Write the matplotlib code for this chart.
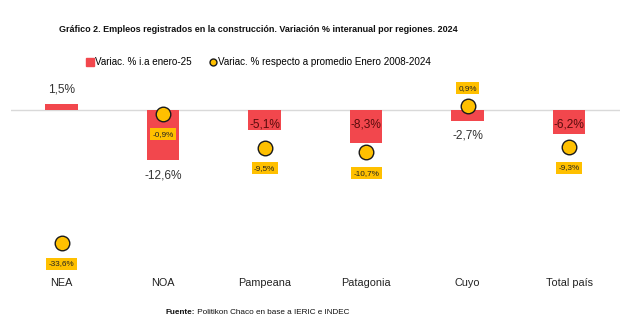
import matplotlib.pyplot as plt
from matplotlib.lines import Line2D

# ---------- data ----------
regiones = ["NEA", "NOA", "Pampeana", "Patagonia", "Cuyo", "Total país"]
var_ia_enero25 = [1.5, -12.6, -5.1, -8.3, -2.7, -6.2]
var_prom_2008_2024 = [-33.6, -0.9, -9.5, -10.7, 0.9, -9.3]
# where the bar value label goes: "out" beyond the bar end, "in" inside near the top
pos_etiqueta_barra = ["out", "out", "in", "in", "out", "in"]
# --------------------------

ROJO = "#f2474d"
AMARILLO = "#ffc000"

plt.rcParams["font.family"] = ["Liberation Sans", "DejaVu Sans"]

CX = 0.401  # horizontal centre of title, legend and source line


def fmt(v):
    return f"{v:.1f}".replace(".", ",") + "%"


fig = plt.figure(figsize=(6.43, 3.33), dpi=100)
ax = fig.add_axes([0.017, 0.183, 0.947, 0.552])

x = range(len(regiones))
ax.bar(x, var_ia_enero25, width=0.32, color=ROJO, zorder=2)
ax.scatter(x, var_prom_2008_2024, s=110, color=AMARILLO, edgecolor="#1a1a1a",
           linewidth=1.0, zorder=4)
ax.axhline(0, color="#d9d9d9", lw=1, zorder=1)

# bar labels
for i, (v, pos) in enumerate(zip(var_ia_enero25, pos_etiqueta_barra)):
    if pos == "in":
        ax.annotate(fmt(v), (i, 0), xytext=(0, -10.5), textcoords="offset points",
                    ha="center", va="center", fontsize=8.6, color="#5a0c0c", zorder=5)
    else:
        dy = 10.5 if v > 0 else -11
        ax.annotate(fmt(v), (i, v), xytext=(0, dy), textcoords="offset points",
                    ha="center", va="center", fontsize=8.6, color="#333333", zorder=5)

# dot labels in yellow boxes
for i, v in enumerate(var_prom_2008_2024):
    dy = 13 if v > 0 else -15
    ax.annotate(fmt(v), (i, v), xytext=(0, dy), textcoords="offset points",
                ha="center", va="center", fontsize=5.9, color="#222222", zorder=5,
                bbox=dict(boxstyle="square,pad=0.3", fc=AMARILLO, ec="none"))

ax.set_xlim(-0.5, len(regiones) - 0.5)
ax.set_ylim(-41, 5.5)
ax.set_xticks(list(x))
ax.set_xticklabels(regiones, fontsize=7.8, color="#222222")
ax.tick_params(axis="x", length=0, pad=4)
ax.set_yticks([])
for s in ax.spines.values():
    s.set_visible(False)

fig.text(CX, 0.912, "Gráfico 2. Empleos registrados en la construcción. Variación % interanual por regiones. 2024",
         ha="center", va="center", fontsize=6.5, fontweight="bold", color="#111111")

handles = [
    Line2D([], [], marker="s", ls="", color=ROJO, markersize=5.5),
    Line2D([], [], marker="o", ls="", markerfacecolor=AMARILLO,
           markeredgecolor="#1a1a1a", markersize=5),
]
fig.legend(handles, ["Variac. % i.a enero-25", "Variac. % respecto a promedio Enero 2008-2024"],
           loc="center", bbox_to_anchor=(CX, 0.813), ncol=2, frameon=False,
           fontsize=7.1, handletextpad=0.0, columnspacing=1.7, handlelength=1.0)

# source line: bold "Fuente:" followed by regular text, centred as one line
fy = 1 - 313 / 333
t1 = fig.text(0, fy, "Fuente:", ha="left", va="center",
              fontsize=5.9, fontweight="bold", color="#111111")
t2 = fig.text(0, fy, " Politikon Chaco en base a IERIC e INDEC",
              ha="left", va="center", fontsize=5.9, color="#111111")
r = fig.canvas.get_renderer()
w1 = t1.get_window_extent(r).width / fig.bbox.width
w2 = t2.get_window_extent(r).width / fig.bbox.width
x0 = CX - (w1 + w2) / 2
t1.set_x(x0)
t2.set_x(x0 + w1)

fig.savefig("out.png", dpi=100, facecolor="white")
